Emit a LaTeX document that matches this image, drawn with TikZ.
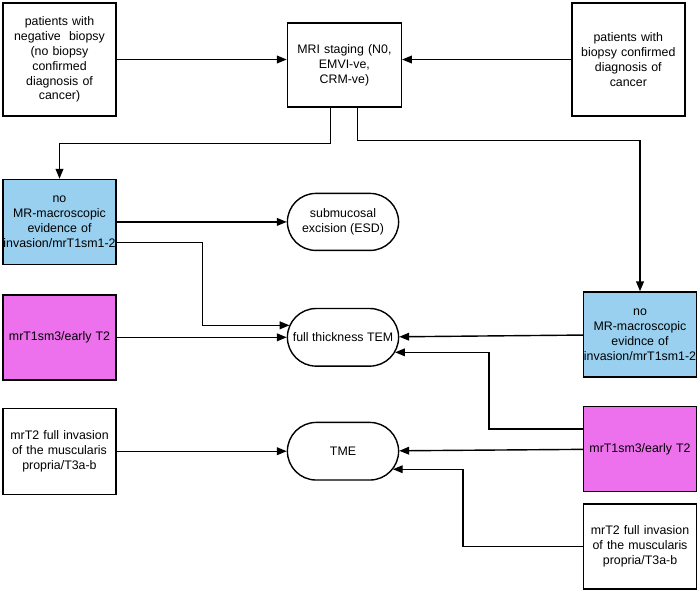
\documentclass[tikz,border=0pt]{standalone}
\usepackage{fontspec}
\setmainfont{Liberation Sans}
\usepackage{tikz}
\usetikzlibrary{arrows.meta, positioning, shapes.misc}
\definecolor{stageblue}{RGB}{153,208,240}
\definecolor{stagepink}{RGB}{237,112,237}
\tikzset{
    box/.style={
        rectangle,
        draw=black,
        line width=1pt,
        minimum width=2.825cm,
        minimum height=2.125cm,
        text width=2.6cm,
        align=center,
        inner sep=1pt,
        fill=white,
        font=\fontsize{8.8}{10.6}\selectfont
    },
    bluebox/.style={
        box,
        fill=stageblue
    },
    pinkbox/.style={
        box,
        fill=stagepink
    },
    treat/.style={
        rounded rectangle,
        draw=black,
        line width=1pt,
        minimum width=2.85cm,
        minimum height=1.44cm,
        align=center,
        inner sep=1pt,
        fill=white,
        font=\fontsize{8.8}{10.6}\selectfont
    },
    wire/.style={
        draw=black,
        line width=1pt,
        -{Triangle[length=7pt,width=5.5pt]}
    }
}
\begin{document}
\begin{tikzpicture}

\useasboundingbox (0,0) rectangle (17.5,-14.8);

% Top row
\node[box, minimum height=2.825cm] (neg) at (1.4875,-1.4875) {patients with\\negative\ \ biopsy\\(no biopsy\\confirmed\\diagnosis of\\cancer)};
\node[box, minimum width=2.85cm, minimum height=2.1cm, right=4.25cm of neg, yshift=-0.1375cm] (mri) {MRI staging (N0,\\EMVI-ve,\\CRM-ve)};
\node[box, minimum height=2.825cm, right=4.225cm of mri, yshift=0.1375cm] (bio) {patients with\\biopsy confirmed\\diagnosis of\\cancer};

\draw[wire] (neg.east) -- (neg.east -| mri.west);
\draw[wire] (bio.west) -- (bio.west -| mri.east);

% Left column
\node[bluebox, below=1.55cm of neg] (nomr1) {no\\MR-macroscopic\\evidence of\\\makebox[2.6cm]{invasion/mrT1sm1-2}};
\node[pinkbox, below=0.725cm of nomr1] (mag1) {mrT1sm3/early T2};
\node[box, minimum height=2.15cm, below=0.675cm of mag1] (mr3) {mrT2 full invasion\\of the muscularis\\propria/T3a-b};

% Treatments
\node[treat, minimum height=1.425cm, right=4.25cm of nomr1] (sub) {submucosal\\excision (ESD)};
\node[treat, right=4.25cm of mag1] (ftem) {full thickness TEM};
\node[treat, right=4.25cm of mr3] (tme) {TME};

% Right column
\node[bluebox] (nomr2) at (16,-8.3625) {no\\MR-macroscopic\\evidnce of\\\makebox[2.6cm]{invasion/mrT1sm1-2}};
\node[pinkbox, below=0.7cm of nomr2] (mag2) {mrT1sm3/early T2};
\node[box] (mr4) at (16,-13.6625) {mrT2 full invasion\\of the muscularis\\propria/T3a-b};

% MRI split
\draw[wire] ([xshift=1.1cm]mri.south west) -- ++(0,-0.9) -| (nomr1.north);
\draw[wire] ([xshift=1.775cm]mri.south west) -- ++(0,-0.825) -| (nomr2.north);

% Left side to treatments
\draw[wire] (nomr1) -- (sub);
\draw[wire] ([yshift=-0.5125cm]nomr1.east) -- ++(2.15,0) |- ([xshift=0.07cm,yshift=0.3cm]ftem.west);
\draw[wire] (mag1) -- (ftem);
\draw[wire] (mr3) -- (tme);

% Right side to treatments
\draw[wire] (nomr2) -- (ftem);
\draw[wire] ([yshift=0.5cm]mag2.west) -- ++(-2.35,0) |- ([xshift=-0.105cm,yshift=-0.375cm]ftem.east);
\draw[wire] (mag2) -- (tme);
\draw[wire] (mr4.west) -- ++(-3,0) |- ([xshift=-0.16cm,yshift=-0.45cm]tme.east);

\end{tikzpicture}
\end{document}
